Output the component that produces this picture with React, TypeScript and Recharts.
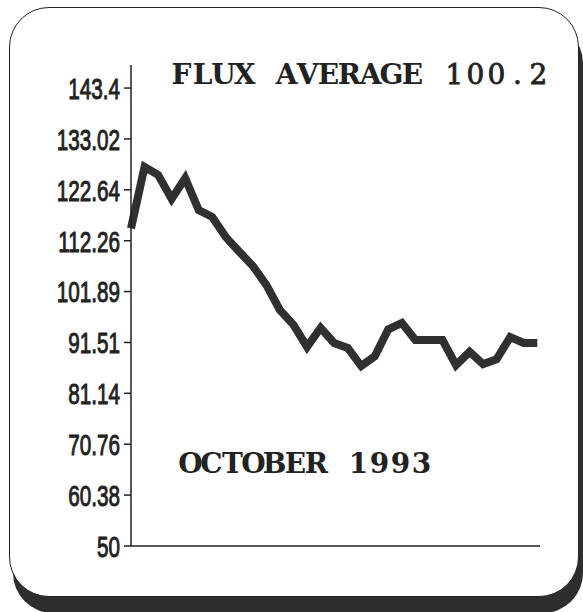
import { LineChart, Line, XAxis, YAxis } from 'recharts'

const days = [
  1, 2, 3, 4, 5, 6, 7, 8, 9, 10, 11, 12, 13, 14, 15, 16, 17, 18, 19, 20, 21, 22, 23, 24, 25, 26, 27, 28,
  29, 30, 31,
]
const flux = [
  114.8, 127.3, 125.7, 120.8, 125.0, 118.5, 117.1, 113.0, 110.0, 107.1, 103.2, 98.1, 95.1, 90.6, 94.5,
  91.4, 90.4, 86.7, 88.7, 94.2, 95.5, 92.0, 92.0, 92.0, 86.9, 89.6, 87.1, 88.1, 92.6, 91.4, 91.4,
]
const yTicks = [50, 60.38, 70.76, 81.14, 91.51, 101.89, 112.26, 122.64, 133.02, 143.4]
const titleLabel = 'FLUX AVERAGE'
const titleValue = '100.2'
const monthLabel = 'OCTOBER 1993'

const chartData = days.map((d, i) => ({ day: d, flux: flux[i] }))

// narrow, tall tick labels like the old plotter font
function YTick(props: any) {
  const { x, y, payload } = props
  return (
    <g transform={`translate(${x},${y}) scale(0.69,1)`}>
      <text
        x={0}
        y={0}
        dy="0.36em"
        textAnchor="end"
        fontFamily="'Liberation Sans', Arial, sans-serif"
        fontSize={30}
        fill="#222"
        stroke="#222"
        strokeWidth={1}
      >
        {payload.value}
      </text>
    </g>
  )
}

// typewriter-style text: every glyph centred on a fixed grid
function MonoText({ text, x, y, pitch, bold }: { text: string; x: number; y: number; pitch: number; bold?: boolean }) {
  const xs = text.split('').map((_, i) => (x + pitch * (i + 0.5)).toFixed(1)).join(' ')
  return (
    <text
      x={xs}
      y={y}
      textAnchor="middle"
      fontFamily="'DejaVu Serif', serif"
      fontSize={28}
      fontWeight={bold ? 'bold' : 'normal'}
      fill="#222"
      stroke="#222"
      strokeWidth={bold ? 0 : 0.8}
    >
      {text}
    </text>
  )
}

export default function App() {
  const pitch = 21
  return (
    <div style={{ position: 'fixed', left: 0, top: 0, width: 583, height: 612, background: '#fff', overflow: 'hidden' }}>
      <div
        style={{
          position: 'absolute',
          left: 9,
          top: 7,
          width: 568,
          height: 588,
          border: '1.5px solid #222',
          borderRadius: 40,
          boxShadow: '4px 16px 0 #2e2e2e',
          background: '#fff',
        }}
      />
      <div style={{ position: 'absolute', left: 0, top: 0 }}>
        <LineChart width={583} height={612} data={chartData} margin={{ top: 65, right: 43, bottom: 65, left: 0 }}>
          <XAxis
            dataKey="day"
            type="number"
            domain={[1, 31.2]}
            tick={false}
            tickLine={false}
            height={1}
            axisLine={{ stroke: '#222', strokeWidth: 1.5 }}
          />
          <YAxis
            type="number"
            domain={[50, 148.1]}
            ticks={yTicks}
            width={131}
            tickSize={7}
            tickMargin={4}
            tick={<YTick />}
            axisLine={{ stroke: '#222', strokeWidth: 1.5 }}
            tickLine={{ stroke: '#222', strokeWidth: 1.5 }}
          />
          <Line
            dataKey="flux"
            stroke="#303030"
            strokeWidth={8}
            dot={false}
            isAnimationActive={false}
            strokeLinejoin="miter"
          />
        </LineChart>
      </div>
      <svg width={583} height={612} style={{ position: 'absolute', left: 0, top: 0, pointerEvents: 'none' }}>
        <MonoText text={titleLabel} x={171} y={84} pitch={pitch} bold />
        <MonoText text={titleValue} x={171 + pitch * (titleLabel.length + 1)} y={84} pitch={pitch} />
        <MonoText text={monthLabel} x={180} y={473} pitch={pitch} bold />
      </svg>
    </div>
  )
}
